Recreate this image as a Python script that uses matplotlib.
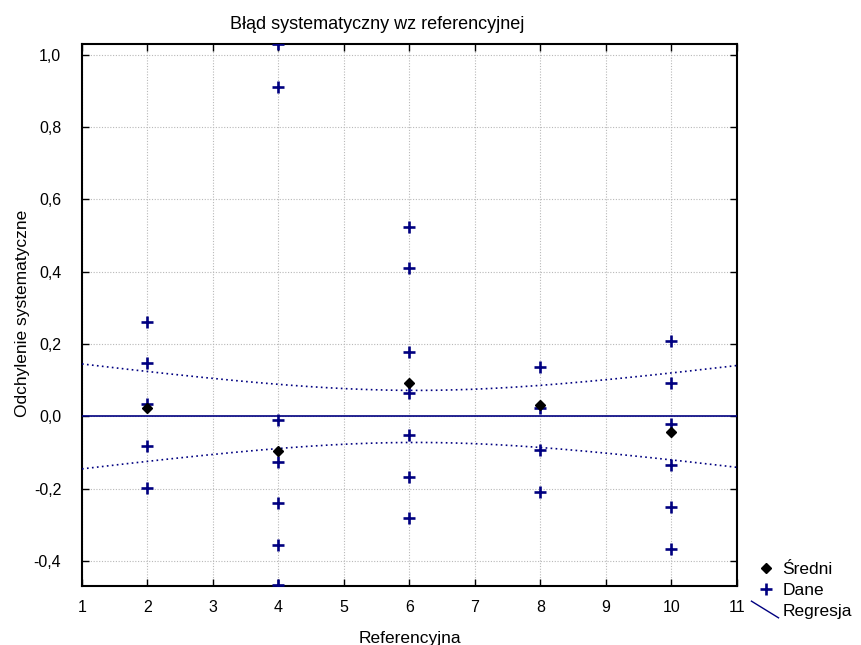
import numpy as np
import matplotlib
matplotlib.use('Agg')
import matplotlib.pyplot as plt
from matplotlib.lines import Line2D
from matplotlib.legend_handler import HandlerBase
from matplotlib.ticker import FuncFormatter

plt.rcParams['font.family'] = ['Liberation Sans', 'DejaVu Sans']

# data
dane_x = [2] * 5 + [4] * 7 + [6] * 7 + [8] * 4 + [10] * 6
dane_y = [0.261, 0.147, 0.035, -0.082, -0.198,
          1.03, 0.911, -0.010, -0.125, -0.239, -0.355, -0.467,
          0.524, 0.410, 0.178, 0.064, -0.051, -0.167, -0.281,
          0.136, 0.022, -0.094, -0.209,
          0.208, 0.093, -0.021, -0.135, -0.251, -0.366]
srednie_x = [2, 4, 6, 8, 10]
srednie_y = [0.023, -0.096, 0.093, 0.032, -0.042]

# regression line and its confidence band
reg_intercept = 0.0
reg_slope = 0.0
band_centre_x = 6.1
band_half_min = 0.072
band_spread = 8.5

x_min, x_max = 1, 11
y_min, y_max = -0.469, 1.03

W, H = 862, 645
fig = plt.figure(figsize=(W / 100, H / 100), dpi=100)
ax = fig.add_axes([82 / W, 1 - 586 / H, (737 - 82) / W, (586 - 44) / H])

xs = np.linspace(x_min, x_max, 200)
reg = reg_intercept + reg_slope * xs
half = band_half_min * np.sqrt(1 + (xs - band_centre_x) ** 2 / band_spread)

navy = '#000080'
ax.plot(xs, reg, color=navy, lw=1.2, zorder=3)
ax.plot(xs, reg + half, color=navy, lw=1.2, ls=(0, (1, 2)), zorder=3)
ax.plot(xs, reg - half, color=navy, lw=1.2, ls=(0, (1, 2)), zorder=3)
ax.plot(dane_x, dane_y, '+', color=navy, ms=9, mew=1.9, zorder=4)
ax.plot(srednie_x, srednie_y, 'D', color='black', ms=5.5, zorder=5)

ax.set_xlim(x_min, x_max)
ax.set_ylim(y_min, y_max)
ax.set_xticks(range(1, 12))
ax.set_yticks(np.arange(-0.4, 1.01, 0.2))
ax.yaxis.set_major_formatter(FuncFormatter(lambda v, p: ('%.1f' % v).replace('.', ',').replace('-0,0', '0,0')))
ax.tick_params(direction='in', top=True, right=True, length=5, width=1, labelsize=11.5)
ax.tick_params(axis='y', pad=15)
ax.tick_params(axis='x', pad=10)
ax.grid(True, color='#b8b8b8', ls=(0, (1, 1.5)), lw=0.8)
for s in ax.spines.values():
    s.set_linewidth(1.5)

fig.text(377 / W, 1 - 29 / H, 'Błąd systematyczny wz referencyjnej', ha='center', va='baseline', fontsize=13)
fig.text(410 / W, 1 - 643 / H, 'Referencyjna', ha='center', va='baseline', fontsize=12.5)
fig.text(23 / W, 1 - 313 / H, 'Odchylenie systematyczne', ha='center', va='center',
         rotation=90, fontsize=12.5)


class HandlerDiag(HandlerBase):
    def create_artists(self, legend, orig_handle, xdescent, ydescent, width, height, fontsize, trans):
        line = Line2D([-xdescent - 4, width - xdescent + 3], [height / 2 + 6, height / 2 - 6],
                      color=orig_handle.get_color(), lw=1)
        line.set_transform(trans)
        return [line]


h_sr = Line2D([], [], marker='D', color='black', ls='none', ms=5.5)
h_da = Line2D([], [], marker='+', color=navy, ls='none', ms=9, mew=1.9)
h_re = Line2D([], [], color=navy)
leg = fig.legend([h_sr, h_da, h_re], ['Średni', 'Dane', 'Regresja'],
                 handler_map={h_re: HandlerDiag()},
                 loc='upper left', bbox_to_anchor=(757 / W, 1 - 562 / H),
                 frameon=False, fontsize=12.5, handlelength=1.0, handletextpad=0.45,
                 labelspacing=0.32, borderpad=0, borderaxespad=0)

fig.savefig('out.png', dpi=100)
